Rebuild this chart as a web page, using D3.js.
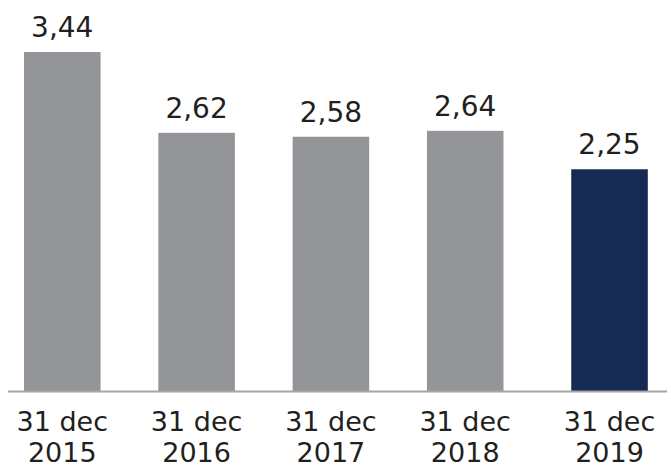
<!DOCTYPE html>
<html>
<head>
<meta charset="utf-8">
<script src="https://cdn.jsdelivr.net/npm/d3@7/dist/d3.min.js"></script>
<style>
  html, body { margin: 0; padding: 0; background: #fff; }
  svg { display: block; }
  text { font-family: "DejaVu Sans", Verdana, sans-serif; fill: #231f20; }
</style>
</head>
<body>
<svg id="chart" width="671" height="466"></svg>
<script>
// Year-end values, one bar per date
const dateLines = [["31 dec", "2015"], ["31 dec", "2016"], ["31 dec", "2017"], ["31 dec", "2018"], ["31 dec", "2019"]];
const categories = ["2015", "2016", "2017", "2018", "2019"];
const values = [3.44, 2.62, 2.58, 2.64, 2.25];
const highlighted = ["2019"];

const width = 671, height = 466;
const baseline = 391;
const svg = d3.select("#chart");

const x = d3.scaleBand()
  .domain(categories)
  .range([24, 637.8])
  .paddingInner(0.43)
  .paddingOuter(0);

// the latest year stands a little apart from the earlier ones
const highlightGap = 10;
const xPos = d => x(d) + (highlighted.includes(d) ? highlightGap : 0);

const y = d3.scaleLinear()
  .domain([0, 3.44])
  .range([baseline, 52]);

const fmt = v => d3.format(".2f")(v).replace(".", ",");

const data = categories.map((c, i) => ({ cat: c, value: values[i], lines: dateLines[i] }));

svg.selectAll("rect.bar")
  .data(data)
  .join("rect")
  .attr("class", "bar")
  .attr("x", d => xPos(d.cat))
  .attr("y", d => y(d.value))
  .attr("width", x.bandwidth())
  .attr("height", d => y(0) - y(d.value))
  .attr("fill", d => highlighted.includes(d.cat) ? "#172a51" : "#939598");

// baseline
svg.append("line")
  .attr("x1", 8).attr("x2", 667)
  .attr("y1", y(0) + 0.5).attr("y2", y(0) + 0.5)
  .attr("stroke", "#a6a6a8")
  .attr("stroke-width", 2);

// value labels
svg.selectAll("text.val")
  .data(data)
  .join("text")
  .attr("class", "val")
  .attr("x", d => xPos(d.cat) + x.bandwidth() / 2)
  .attr("y", d => y(d.value) - 15)
  .attr("text-anchor", "middle")
  .attr("font-size", 28)
  .text(d => fmt(d.value));

// category labels, two lines each
const lbl = svg.selectAll("text.cat")
  .data(data)
  .join("text")
  .attr("class", "cat")
  .attr("text-anchor", "middle")
  .attr("font-size", 27);

lbl.selectAll("tspan")
  .data(d => d.lines.map((t, i) => ({ t, i, cx: xPos(d.cat) + x.bandwidth() / 2 })))
  .join("tspan")
  .attr("x", d => d.cx)
  .attr("y", d => 431 + d.i * 30.5)
  .text(d => d.t);
</script>
</body>
</html>
